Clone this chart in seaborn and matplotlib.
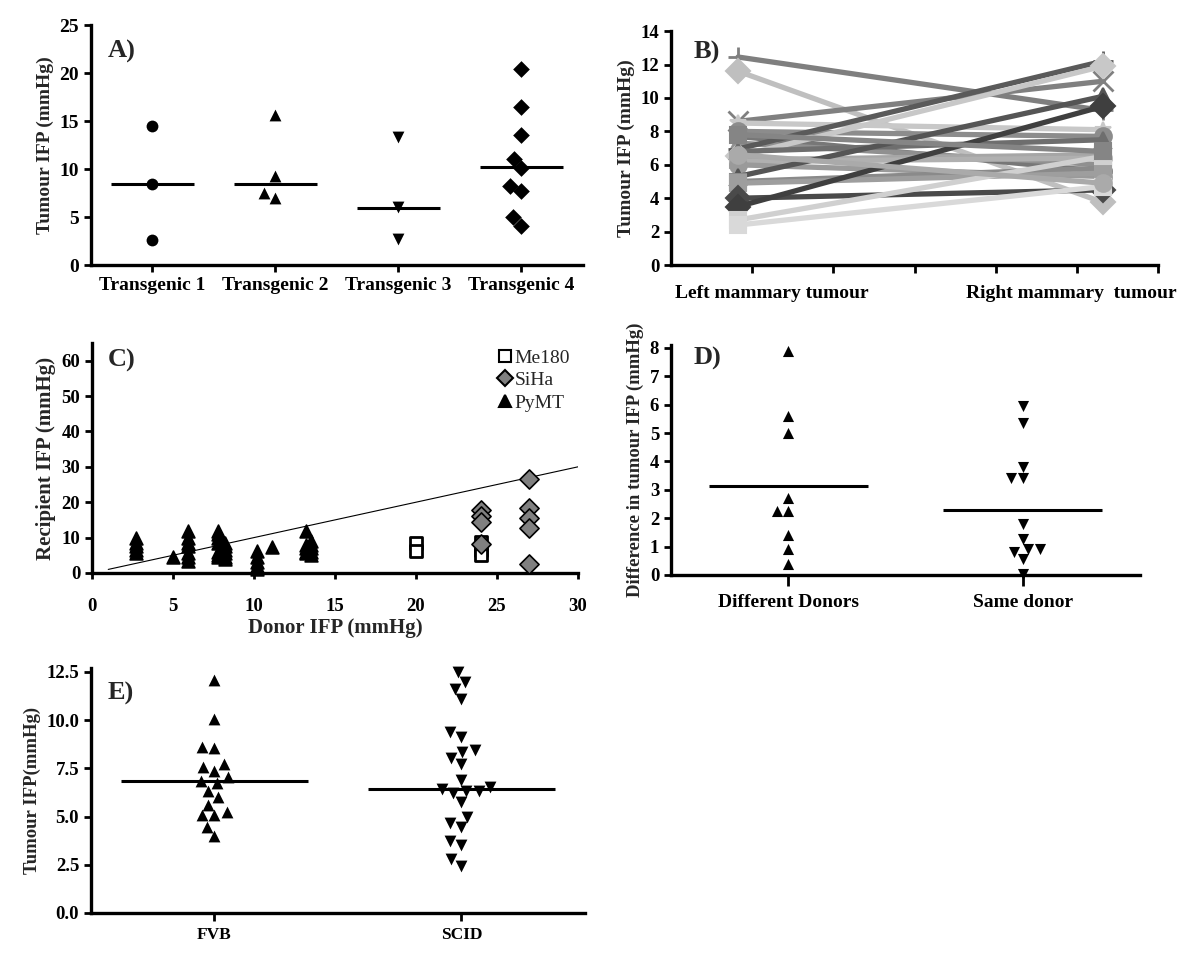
import numpy as np
import pandas as pd
import seaborn as sns
import matplotlib.pyplot as plt
from matplotlib.lines import Line2D

# A) tumour IFP in four transgenic lines
a_groups = ["Transgenic 1", "Transgenic 2", "Transgenic 3", "Transgenic 4"]
a_markers = ["o", "^", "v", "D"]
a_values = [
    [14.5, 8.4, 2.6],
    [15.6, 9.3, 7.0, 7.5],
    [13.3, 6.0, 2.7],
    [20.4, 16.5, 13.5, 11.1, 10.1, 8.2, 7.7, 5.0, 4.1],
]
a_medians = [8.4, 8.4, 5.9, 10.2]

# B) left vs right mammary tumour, one line per mouse
b_sides = ["Left mammary tumour", "Right mammary  tumour"]
b_left = [12.45, 11.6, 8.6, 8.5, 8.0, 7.7, 7.3, 6.95, 6.5, 6.8, 6.3,
          6.2, 6.0, 5.3, 5.0, 4.9, 4.0, 3.5, 2.7, 2.4, 6.6, 7.8]
b_right = [9.25, 3.75, 11.0, 8.1, 7.7, 5.6, 6.0, 12.2, 11.9, 7.5, 6.6,
           6.4, 5.3, 10.1, 5.8, 5.5, 4.5, 9.5, 6.5, 4.7, 4.9, 6.8]
b_greys = ["#7f7f7f", "#bfbfbf", "#808080", "#c8c8c8", "#8c8c8c", "#777777",
           "#909090", "#5a5a5a", "#c8c8c8", "#6e6e6e", "#a6a6a6", "#b0b0b0",
           "#9a9a9a", "#555555", "#8a8a8a", "#9e9e9e", "#4a4a4a", "#3f3f3f",
           "#d0d0d0", "#d9d9d9", "#aaaaaa", "#858585"]
b_marks = ["+", "D", "x", "*", "o", "o", "^", "+", "D", "^", "s",
           "o", "o", "^", "s", "s", "D", "D", "s", "s", "o", "s"]

# C) donor vs recipient IFP
c_me180_donor = [20, 20, 24, 24, 24]
c_me180_recip = [8.5, 6.2, 8.8, 6.5, 5.0]
c_siha_donor = [24, 24, 24, 24, 27, 27, 27, 27, 27]
c_siha_recip = [17.8, 16.2, 14.5, 8.2, 26.5, 18.3, 15.5, 12.6, 2.6]
c_pymt_donor = [2.7, 2.7, 2.7, 2.7, 2.7, 5.0,
                5.9, 5.9, 5.9, 5.9, 5.9, 5.9, 5.9,
                7.8, 7.8, 7.8, 7.8, 7.8, 7.8, 7.8,
                8.2, 8.2, 8.2, 8.2, 8.2, 8.2,
                10.2, 10.2, 10.2, 10.2, 10.2, 11.1,
                13.2, 13.2, 13.2, 13.2, 13.2,
                13.5, 13.5, 13.5, 13.5, 13.5]
c_pymt_recip = [9.8, 8.5, 7.5, 6.5, 5.6, 4.5,
                11.8, 10.0, 8.5, 7.5, 5.5, 4.5, 3.5,
                12.0, 11.0, 10.0, 8.5, 6.0, 5.0, 4.5,
                8.5, 7.5, 6.5, 5.5, 4.5, 4.0,
                6.3, 4.5, 3.0, 2.0, 1.2, 7.3,
                12.0, 8.0, 7.0, 6.0, 5.5,
                9.0, 8.0, 7.0, 6.0, 5.0]
c_identity = [1, 30]

# D) difference in tumour IFP
d_groups = ["Different Donors", "Same donor"]
d_markers = ["^", "v"]
d_values = [
    [7.9, 5.6, 5.0, 2.7, 2.25, 2.25, 1.4, 0.9, 0.4],
    [5.95, 5.35, 3.8, 3.4, 3.4, 1.8, 1.25, 0.9, 0.8, 0.9, 0.55, 0.05],
]
d_means = [3.15, 2.3]

# E) FVB vs SCID hosts
e_groups = ["FVB", "SCID"]
e_markers = ["^", "v"]
e_values = [
    [12.1, 10.05, 8.62, 8.57, 7.72, 7.59, 7.36, 7.03, 6.86, 6.76, 6.34,
     6.0, 5.62, 5.22, 5.09, 5.09, 4.45, 3.97],
    [12.47, 11.98, 11.6, 11.07, 9.4, 9.14, 8.45, 8.33, 8.05, 7.72, 6.9,
     6.55, 6.33, 6.2, 6.3, 6.45, 5.74, 5.0, 4.66, 4.45, 3.74, 3.5, 2.81, 2.45],
]
e_medians = [6.85, 6.45]

sns.set_style("ticks")
plt.rcParams["font.family"] = ["Liberation Serif", "DejaVu Serif"]
plt.rcParams["font.weight"] = "bold"
plt.rcParams["axes.labelweight"] = "bold"
plt.rcParams["axes.linewidth"] = 2.4
plt.rcParams["axes.edgecolor"] = "black"
plt.rcParams["xtick.color"] = "black"
plt.rcParams["ytick.color"] = "black"


def style(ax, labelsize=13.5):
    sns.despine(ax=ax)
    ax.tick_params(axis="both", which="major", width=2, length=5, labelsize=labelsize)


def column_scatter(ax, groups, values, markers, centres, half, size):
    for name, vals, m in zip(groups, values, markers):
        sns.swarmplot(x=[name] * len(vals), y=vals, order=groups, color="black",
                      marker=m, size=size, ax=ax, clip_on=False)
    for i, c in enumerate(centres):
        ax.hlines(c, i - half, i + half, color="black", lw=2.2)
    ax.set_xlim(-0.5, len(groups) - 0.5)


fig = plt.figure(figsize=(12, 9.57), dpi=100)

# ---- A
ax = fig.add_axes([0.0758, 0.7230, 0.41, 0.2508])
column_scatter(ax, a_groups, a_values, a_markers, a_medians, 0.34, 8.5)
ax.set_ylim(0, 25)
ax.set_yticks(range(0, 26, 5))
style(ax, 14)
ax.set_ylabel("Tumour IFP (mmHg)", fontsize=14)
ax.text(0.035, 0.89, "A)", transform=ax.transAxes, fontsize=19, va="center")

# ---- B
ax = fig.add_axes([0.5592, 0.7230, 0.4058, 0.2445])
for i in range(len(b_left)):
    df = pd.DataFrame({"side": [0, 1], "ifp": [b_left[i], b_right[i]]})
    filled = b_marks[i] not in ("+", "x")
    sns.lineplot(data=df, x="side", y="ifp", color=b_greys[i], lw=3.8,
                 marker=b_marks[i], markersize=12 if filled else 14,
                 markeredgecolor=b_greys[i], markeredgewidth=1.5 if filled else 2,
                 ax=ax, clip_on=False)
ax.set_xlim(-0.1836, 1.1507)
ax.set_ylim(0, 14)
ax.set_yticks(range(0, 15, 2))
style(ax)
ax.set_xticks(np.linspace(-0.1836, 1.1507, 7)[1:], minor=True)
ax.set_xticks([0.093, 0.912])
ax.set_xticklabels(b_sides)
ax.tick_params(axis="x", which="major", length=0, pad=14, labelsize=14)
ax.tick_params(axis="x", which="minor", length=6, width=2)
ax.set_xlabel("")
ax.set_ylabel("Tumour IFP (mmHg)", fontsize=14)
ax.text(0.047, 0.91, "B)", transform=ax.transAxes, fontsize=19, va="center")

# ---- C
ax = fig.add_axes([0.0767, 0.4013, 0.405, 0.2403])
df_c = pd.DataFrame({
    "donor": c_me180_donor + c_siha_donor + c_pymt_donor,
    "recipient": c_me180_recip + c_siha_recip + c_pymt_recip,
    "line": ["Me180"] * len(c_me180_donor) + ["SiHa"] * len(c_siha_donor)
            + ["PyMT"] * len(c_pymt_donor),
})
c_markers = {"Me180": "s", "SiHa": "D", "PyMT": "^"}
c_colors = {"Me180": "white", "SiHa": "#808080", "PyMT": "black"}
ax.plot(c_identity, c_identity, color="black", lw=0.8)
for name in ["Me180", "SiHa", "PyMT"]:
    sub = df_c[df_c["line"] == name]
    sns.scatterplot(data=sub, x="donor", y="recipient", marker=c_markers[name],
                    color=c_colors[name], edgecolor="black",
                    linewidth=2 if name == "Me180" else 1.2,
                    s={"Me180": 70, "SiHa": 95, "PyMT": 85}[name],
                    ax=ax, clip_on=False, zorder=3)
ax.set_xlim(0, 30)
ax.set_ylim(0, 65)
ax.set_xticks(range(0, 31, 5))
ax.set_yticks(range(0, 61, 10))
style(ax)
ax.tick_params(axis="x", length=4, pad=14)
ax.set_xlabel("Donor IFP (mmHg)", fontsize=15, labelpad=2)
ax.set_ylabel("Recipient IFP (mmHg)", fontsize=15)
handles = [Line2D([], [], ls="", marker=c_markers[n], markersize=8,
                  markerfacecolor=c_colors[n], markeredgecolor="black",
                  markeredgewidth=1.5, label=n) for n in ["Me180", "SiHa", "PyMT"]]
ax.legend(handles=handles, loc="upper right", bbox_to_anchor=(1.02, 1.05),
          frameon=False, handlelength=0.7, handletextpad=0.15, labelspacing=0.25,
          prop={"family": "Liberation Serif", "weight": "normal", "size": 14})
ax.text(0.033, 0.926, "C)", transform=ax.transAxes, fontsize=19, va="center")

# ---- D
ax = fig.add_axes([0.5592, 0.3992, 0.3908, 0.2403])
column_scatter(ax, d_groups, d_values, d_markers, d_means, 0.34, 8)
ax.set_ylim(0, 8.1)
ax.set_yticks(range(0, 9))
style(ax)
ax.tick_params(axis="x", length=8, pad=6, labelsize=14)
ax.set_ylabel("Difference in tumour IFP (mmHg)", fontsize=13.5)
ax.text(0.049, 0.943, "D)", transform=ax.transAxes, fontsize=19, va="center")

# ---- E
ax = fig.add_axes([0.0758, 0.0460, 0.4117, 0.2560])
column_scatter(ax, e_groups, e_values, e_markers, e_medians, 0.38, 8.5)
ax.set_ylim(0, 12.7)
ax.set_yticks([0, 2.5, 5, 7.5, 10, 12.5])
ax.set_yticklabels(["0.0", "2.5", "5.0", "7.5", "10.0", "12.5"])
style(ax)
ax.tick_params(axis="x", length=6, pad=4, labelsize=12.5)
ax.set_ylabel("Tumour IFP(mmHg)", fontsize=13.5)
ax.text(0.034, 0.898, "E)", transform=ax.transAxes, fontsize=19, va="center")

fig.savefig("out.png", dpi=100)
